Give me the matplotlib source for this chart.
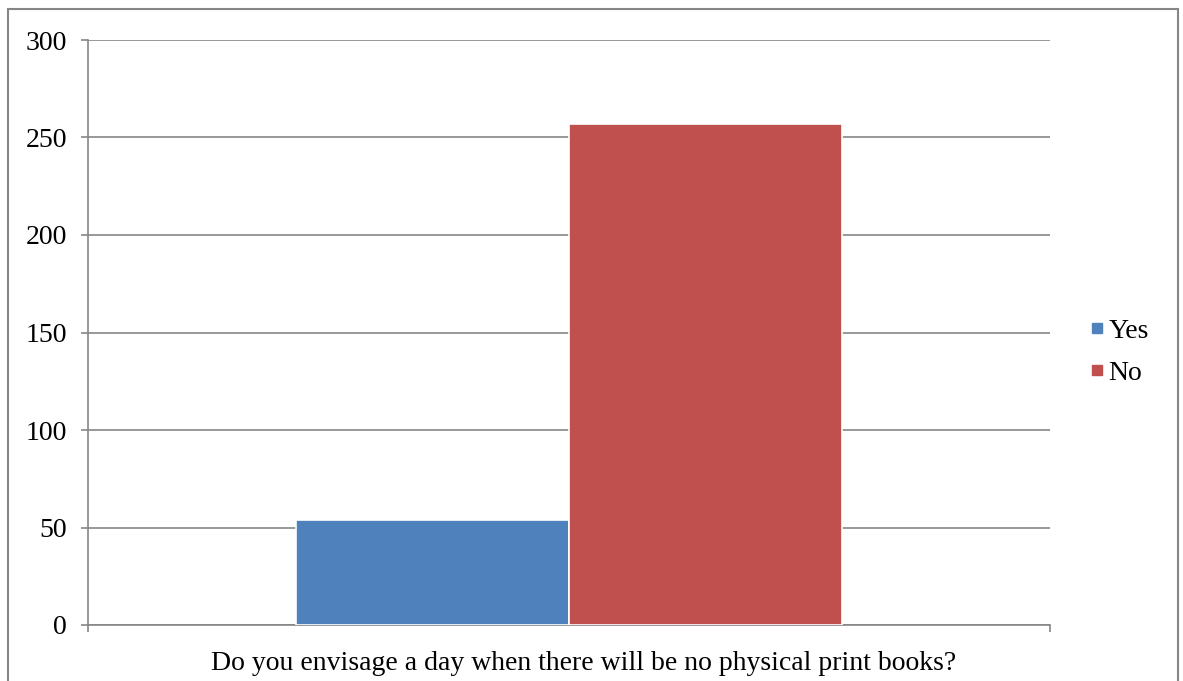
import matplotlib.pyplot as plt
from matplotlib.patches import Rectangle
from matplotlib.lines import Line2D

plt.rcParams['font.family'] = ['Liberation Serif', 'DejaVu Serif']

question = "Do you envisage a day when there will be no physical print books?"
series = ["Yes", "No"]
counts = [54, 257]
colors = ["#4F81BD", "#C0504D"]
yticks = [0, 50, 100, 150, 200, 250, 300]

W, H = 1183, 681
FS = 20
fig = plt.figure(figsize=(W / 100, H / 100), dpi=100)
ax = fig.add_axes([88 / W, (H - 625) / H, (1050 - 88) / W, (625 - 40) / H])

grid_col = "#868686"
bar_w = 0.284
offsets = [-bar_w / 2, bar_w / 2]
for name, val, col, off in zip(series, counts, colors, offsets):
    ax.bar(off, val, width=bar_w, color=col, edgecolor="white", linewidth=1.2,
           label=name, zorder=3)

ax.set_xlim(-0.5, 0.5)
ax.set_ylim(0, 300)
ax.set_yticks(yticks)
ax.set_yticklabels([str(t) for t in yticks], fontsize=FS)
ax.yaxis.grid(True, color=grid_col, linewidth=1.2, zorder=0)
ax.set_axisbelow(True)

for s in ["top", "right"]:
    ax.spines[s].set_visible(False)
ax.spines["left"].set_color(grid_col)
ax.spines["bottom"].set_color(grid_col)
ax.spines["left"].set_linewidth(1.2)
ax.spines["bottom"].set_linewidth(1.2)

ax.tick_params(axis="y", length=5, color=grid_col, width=1.2, pad=10)
ax.set_xticks([-0.5, 0.5])
ax.set_xticklabels(["", ""])
ax.tick_params(axis="x", length=5, color=grid_col, width=1.2)

fig.text(584 / W, 1 - 663 / H, question, ha="center", va="center", fontsize=FS)

handles = [Line2D([], [], marker="s", linestyle="none", markersize=7,
                  markerfacecolor=c, markeredgecolor=c) for c in colors]
ax.legend(handles, series, loc="center left", bbox_to_anchor=(1.016, 0.466),
          frameon=False, fontsize=FS, handlelength=0.5, handletextpad=0.15,
          labelspacing=0.6)

# outer chart border
fig.patches.append(Rectangle((8 / W, -0.05), (1178 - 8) / W, 1.05 - 9 / H,
                             transform=fig.transFigure, fill=False,
                             edgecolor=grid_col, linewidth=1.5))

fig.savefig("out.png", dpi=100)
